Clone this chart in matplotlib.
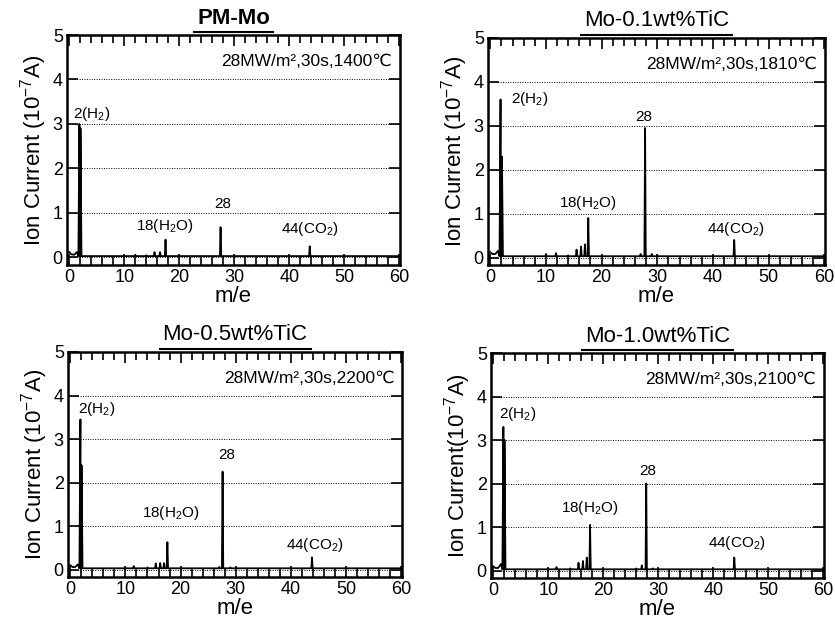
import numpy as np
import matplotlib
matplotlib.use('Agg')
import matplotlib.pyplot as plt
from matplotlib.ticker import MultipleLocator
from matplotlib.lines import Line2D

plt.rcParams['font.family'] = ['Liberation Sans', 'DejaVu Sans']
plt.rcParams['mathtext.fontset'] = 'custom'
plt.rcParams['mathtext.rm'] = 'Liberation Sans'
plt.rcParams['mathtext.it'] = 'Liberation Sans'

# Panel titles and conditions
titles = ['PM-Mo', 'Mo-0.1wt%TiC', 'Mo-0.5wt%TiC', 'Mo-1.0wt%TiC']
conditions = ['28MW/m\u00b2,30s,1400\u2103', '28MW/m\u00b2,30s,1810\u2103',
              '28MW/m\u00b2,30s,2200\u2103', '28MW/m\u00b2,30s,2100\u2103']
ylabels = ['Ion Current (10$^{-7}$A)', 'Ion Current (10$^{-7}$A)',
           'Ion Current (10$^{-7}$A)', 'Ion Current(10$^{-7}$A)']

# Low-mass background (m/e 0 .. 1.5) before the H2 peak
low_mass = [0.0, 0.4, 0.9, 1.4]
low_pm = [0.12, 0.07, 0.06, 0.12]
low_01 = [0.12, 0.08, 0.08, 0.15]
low_05 = [0.10, 0.06, 0.06, 0.12]
low_10 = [0.10, 0.06, 0.06, 0.15]

# Peak positions (m/e) and heights (1e-7 A)
mass_pm = [1.85, 2.05, 12, 14, 15.5, 16.5, 17.5, 27.5, 43.7]
height_pm = [3.0, 2.9, 0.06, 0.05, 0.12, 0.12, 0.40, 0.68, 0.25]

mass_01 = [1.85, 2.1, 10, 11.8, 14, 15.5, 16.3, 17, 17.6, 27, 27.8, 29, 30, 43.8]
height_01 = [3.6, 2.3, 0.08, 0.10, 0.05, 0.18, 0.25, 0.30, 0.90, 0.08, 2.95, 0.08, 0.05, 0.40]

mass_05 = [1.85, 2.05, 11.5, 14, 15.5, 16.3, 17, 17.6, 27, 27.6, 29, 43.8]
height_05 = [3.45, 2.4, 0.08, 0.05, 0.14, 0.15, 0.15, 0.63, 0.06, 2.25, 0.05, 0.28]

mass_10 = [1.85, 2.05, 11.5, 14, 15.5, 16.3, 17, 17.6, 26, 27, 27.8, 29, 43.8]
height_10 = [3.3, 3.0, 0.08, 0.05, 0.18, 0.22, 0.30, 1.05, 0.05, 0.12, 2.0, 0.05, 0.30]

lows = [low_pm, low_01, low_05, low_10]
masses = [mass_pm, mass_01, mass_05, mass_10]
heights = [height_pm, height_01, height_05, height_10]

# Peak label positions (x, y) in data units
label_texts = ['2(H$_2$)', '18(H$_2$O)', '28', '44(CO$_2$)']
label_pos = [
    [(0.6, 3.23), (17.4, 0.70), (27.9, 1.20), (43.7, 0.63)],
    [(3.8, 3.60), (17.5, 1.25), (27.6, 3.20), (44.0, 0.64)],
    [(1.4, 3.70), (18.2, 1.30), (28.4, 2.64), (44.3, 0.57)],
    [(1.1, 3.60), (17.5, 1.43), (28.1, 2.30), (44.3, 0.64)],
]

baseline = 0.03

# axes rectangles in pixels: left, right, top, bottom
W, H = 835, 627
rects = [(67, 400, 35, 265), (488, 825, 38, 265), (68, 402, 352, 577), (491, 824, 353, 578)]

fig = plt.figure(figsize=(W / 100, H / 100), dpi=100)

axes = []
for i in range(4):
    l, r, t, b = rects[i]
    ax = fig.add_axes([l / W, 1 - b / H, (r - l) / W, (b - t) / H])
    axes.append(ax)

    # build the spectrum trace from the peak list
    xs = list(low_mass)
    ys = list(lows[i])
    for m, h in zip(masses[i], heights[i]):
        w = 0.18 if m < 3 else 0.12
        xs += [m - w, m, m + w]
        ys += [baseline, h, baseline]
    xs.append(60)
    ys.append(baseline)
    order = np.argsort(xs, kind='stable')
    ax.plot(np.array(xs)[order], np.array(ys)[order], color='black', lw=1.3)

    ax.set_xlim(-0.4, 60.1)
    ax.set_ylim(-0.17, 5.0)
    ax.xaxis.set_major_locator(MultipleLocator(10))
    ax.xaxis.set_minor_locator(MultipleLocator(2))
    ax.yaxis.set_major_locator(MultipleLocator(1))
    ax.tick_params(which='both', direction='in', top=True, right=True, labelsize=13, width=1.2)
    ax.tick_params(which='major', length=8, pad=3)
    ax.tick_params(which='minor', length=6)
    for s in ax.spines.values():
        s.set_linewidth(1.8)

    ax.yaxis.grid(True, linestyle=(0, (1, 1.5)), color='black', lw=0.7)
    ax.set_axisbelow(True)

    ax.set_xlabel('m/e', fontsize=16, labelpad=0)
    ax.set_ylabel(ylabels[i], fontsize=16, labelpad=3)

    ax.text(58.7, 4.4, conditions[i], ha='right', va='center', fontsize=12.5)
    for txt, (px, py) in zip(label_texts, label_pos[i]):
        ha = 'left' if txt.startswith('2(') else 'center'
        ax.text(px, py, txt, ha=ha, va='center', fontsize=11)

# titles with underline
renderer = fig.canvas.get_renderer()
for i, ax in enumerate(axes):
    l, r, t, b = rects[i]
    cx = (l + r) / 2 / W
    weight = 'bold' if i == 0 else 'normal'
    tt = fig.text(cx, 1 - (t - 17) / H, titles[i], ha='center', va='center',
                  fontsize=16, fontweight=weight)
    bb = tt.get_window_extent(renderer)
    y = (bb.y0 - 3) / H
    fig.add_artist(Line2D([(bb.x0 - 3) / W, (bb.x1 + 3) / W], [y, y],
                          color='black', lw=1.5, transform=fig.transFigure))

fig.savefig('out.png', dpi=100)
